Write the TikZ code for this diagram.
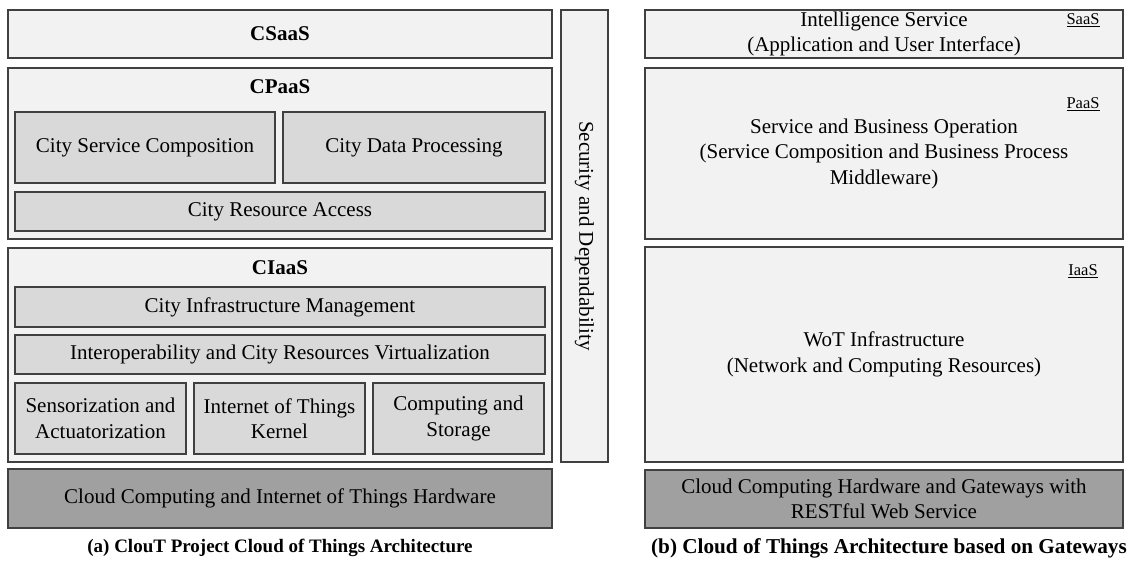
\documentclass[tikz,border=0pt]{standalone}
\usepackage{fontspec}
\setmainfont{Liberation Serif}
\usepackage{tikz}
\usetikzlibrary{positioning}
\definecolor{boxline}{RGB}{64,64,64}
\definecolor{lightfill}{RGB}{242,242,242}
\definecolor{midfill}{RGB}{217,217,217}
\definecolor{darkfill}{RGB}{160,160,160}
\tikzstyle{layer} = [rectangle, draw=boxline, line width=1.1pt, fill=lightfill, inner sep=0pt, outer sep=0pt, align=center, font=\fontsize{21}{25.5}\selectfont]

\begin{document}
\begin{tikzpicture}[x=1pt,y=-1pt,
			inner/.style={layer, fill=midfill},
			hard/.style={layer, fill=darkfill},
			title/.style={font=\fontsize{21}{25.5}\selectfont\bfseries, inner sep=0pt},
			tag/.style={font=\fontsize{16.5}{18}\selectfont, inner sep=0pt},
			caption/.style={font=\fontsize{19}{22}\selectfont\bfseries, inner sep=0pt}]
			\useasboundingbox (0,0) rectangle (1132,561);
			
			% (a) ClouT
			\node[layer, minimum width=544pt, minimum height=48pt] (csaas) at (280,34) {};
			\node[title] (csaast) at (csaas.center) {CSaaS};
			
			\node[layer, minimum width=544pt, minimum height=171pt] (cpaas) at (280,153.5) {};
			\node[title] (cpaast) at (280,87) {CPaaS};
			\node[inner, minimum width=260pt, minimum height=71pt] (csc) at (145,147.5) {City Service Composition};
			\node[inner, minimum width=262pt, minimum height=71pt] (cdp) at (414,147.5) {City Data Processing};
			\node[inner, minimum width=530pt, minimum height=39pt] (cra) at (280,211.5) {City Resource Access};
			
			\node[layer, minimum width=544pt, minimum height=214pt] (ciaas) at (280,355) {};
			\node[title] (ciaast) at (280,268) {CIaaS};
			\node[inner, minimum width=530pt, minimum height=40pt] (cim) at (280,307) {City Infrastructure Management};
			\node[inner, minimum width=530pt, minimum height=39pt] (interop) at (280,354.5) {Interoperability and City Resources Virtualization};
			\node[inner, minimum width=171pt, minimum height=71pt] (sens) at (100.5,418.5) {Sensorization and\\Actuatorization};
			\node[inner, minimum width=171pt, minimum height=71pt] (iotk) at (279.5,418.5) {Internet of Things\\Kernel};
			\node[inner, minimum width=171pt, minimum height=71pt] (cst) at (458.5,418.5) {Computing and\\Storage};
			
			\node[hard, minimum width=544pt, minimum height=59pt] (hwa) at (280,498.5) {Cloud Computing and Internet of Things Hardware};
			
			\node[layer, minimum width=47pt, minimum height=452pt] (sec) at (584.5,236) {};
			\node[rotate=-90, font=\fontsize{21}{25.5}\selectfont, inner sep=0pt] (sect) at (sec.center) {Security and Dependability};
			
			\node[caption] (capa) at (280,548) {(a) ClouT Project Cloud of Things Architecture};
			
			% (b) gateways
			\node[layer, minimum width=478pt, minimum height=48pt] (saas) at (884,34) {Intelligence Service\\(Application and User Interface)};
			\node[tag] (saast) at (1083,20) {\underline{SaaS}};
			
			\node[layer, minimum width=478pt, minimum height=171pt] (paas) at (884,153.5) {Service and Business Operation\\(Service Composition and Business Process\\Middleware)};
			\node[tag] (paast) at (1083,104) {\underline{PaaS}};
			
			\node[layer, minimum width=478pt, minimum height=215pt] (iaas) at (884,354.5) {WoT Infrastructure\\(Network and Computing Resources)};
			\node[tag] (iaast) at (1083,271) {\underline{IaaS}};
			
			\node[hard, minimum width=478pt, minimum height=58pt] (hwb) at (884,499) {Cloud Computing Hardware and Gateways with\\RESTful Web Service};
			
			\node[caption, font=\fontsize{21.2}{24}\selectfont\bfseries] (capb) at (889,548) {(b) Cloud of Things Architecture based on Gateways};
			
			\end{tikzpicture}
\end{document}
